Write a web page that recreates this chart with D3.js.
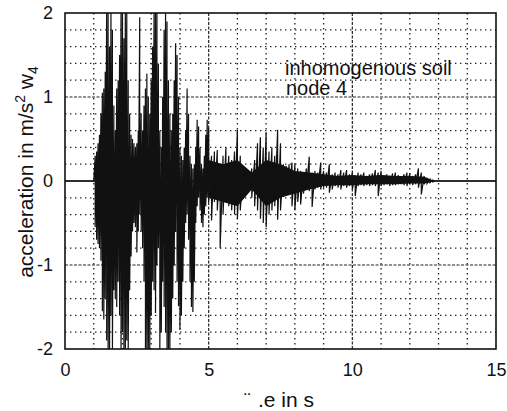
<!DOCTYPE html>
<html>
<head>
<meta charset="utf-8">
<script src="https://cdn.jsdelivr.net/npm/d3@7"></script>
<style>
    body { margin: 0; background: #fff; }
    svg { display: block; font-family: "Liberation Sans", Arial, sans-serif; }
    .minor { stroke: #222; stroke-width: 1.3; stroke-dasharray: 1.4 3.6; }
    .major { stroke: #222; stroke-width: 1.2; stroke-dasharray: 3 1.5; }
    .zero { stroke: #111; stroke-width: 1.4; }
    .axis text { font-size: 18px; fill: #111; }
    .label { font-size: 20px; fill: #111; }
</style>
</head>
<body>
<svg id="chart" width="507" height="411"></svg>
<script>
// tick labels
const xTicks = [0, 5, 10, 15];
const yTicks = [-2, -1, 0, 1, 2];

// strong part of the record (0.05 s read-off), times in s
const timesA = [0, 1.00,
    1.05, 1.10, 1.15, 1.20, 1.25, 1.30, 1.35, 1.40, 1.45, 1.50, 1.55, 1.60, 1.65, 1.70, 1.75, 1.80, 1.85, 1.90, 1.95, 2.00,
    2.05, 2.10, 2.15, 2.20, 2.25, 2.30, 2.35, 2.40, 2.45, 2.50, 2.55, 2.60, 2.65, 2.70, 2.75, 2.80, 2.85, 2.90, 2.95, 3.00,
    3.05, 3.10, 3.15, 3.20, 3.25, 3.30, 3.35, 3.40, 3.45, 3.50, 3.55, 3.60, 3.65, 3.70, 3.75, 3.80, 3.85, 3.90, 3.95, 4.00,
    4.05, 4.10, 4.15, 4.20, 4.25, 4.30, 4.35, 4.40, 4.45, 4.50, 4.55, 4.60, 4.65, 4.70, 4.75, 4.80, 4.85, 4.90, 4.95];
// upper peaks in m/s^2
const highA = [0, 0,
    0.30, 0.35, 0.45, 0.55, 0.80, 1.05, 1.10, 1.30, 2.00, 2.00, 1.60, 2.00, 1.80, 0.90, 0.60, 1.10, 1.20, 1.50, 2.00, 2.00,
    1.70, 2.00, 2.00, 1.20, 0.80, 0.55, 0.50, 0.45, 0.40, 0.45, 0.60, 1.95, 0.80, 0.60, 0.90, 1.10, 1.28, 1.00, 0.80, 1.20,
    1.60, 2.00, 2.00, 2.00, 1.40, 0.60, 0.40, 1.00, 1.80, 2.00, 1.90, 1.20, 0.80, 0.60, 0.80, 1.20, 1.64, 1.50, 1.00, 0.40,
    0.30, 0.25, 0.40, 0.60, 1.10, 0.80, 0.30, 0.20, 0.15, 0.20, 0.40, 0.73, 0.65, 0.40, 0.20, 0.15, 0.30, 0.55, 0.73];
// lower peaks in m/s^2
const lowA = [0, 0,
    -0.55, -0.70, -0.75, -0.80, -0.95, -1.55, -1.65, -1.40, -1.90, -2.00, -2.00, -1.60, -2.00, -1.30, -1.40, -1.50, -1.20, -1.60, -2.00, -1.80,
    -2.00, -2.00, -1.90, -2.00, -1.30, -0.90, -0.60, -0.50, -0.55, -0.85, -0.60, -0.40, -0.60, -0.80, -1.20, -2.00, -2.00, -2.00, -2.00, -1.60,
    -1.20, -1.30, -1.57, -1.00, -0.80, -2.00, -1.80, -1.20, -1.50, -1.80, -2.00, -2.00, -2.00, -1.80, -1.40, -1.00, -0.60, -1.20, -1.49, -1.77,
    -1.60, -1.20, -0.80, -0.50, -0.40, -0.70, -1.20, -1.50, -1.56, -1.20, -0.50, -0.30, -0.20, -0.35, -0.50, -0.55, -0.40, -0.30, -0.20];

// decaying tail (0.1 s read-off)
const timesB = [5.0, 5.1, 5.2, 5.3, 5.4, 5.5, 5.6, 5.7, 5.8, 5.9,
    6.0, 6.1, 6.2, 6.3, 6.4, 6.5, 6.6, 6.7, 6.8, 6.9,
    7.0, 7.1, 7.2, 7.3, 7.4, 7.5, 7.6, 7.7, 7.8, 7.9,
    8.0, 8.1, 8.2, 8.3, 8.4, 8.5, 8.6, 8.7, 8.8, 8.9,
    9.0, 9.1, 9.2, 9.3, 9.4, 9.5, 9.6, 9.7, 9.8, 9.9,
    10.0, 10.1, 10.2, 10.3, 10.4, 10.5, 10.6, 10.7, 10.8, 10.9,
    11.0, 11.1, 11.2, 11.3, 11.4, 11.5, 11.6, 11.7, 11.8, 11.9,
    12.0, 12.1, 12.2, 12.3, 12.4, 12.5, 12.6, 12.7, 12.8, 12.9, 15.0];
const highB = [0.63, 0.30, 0.35, 0.37, 0.20, 0.30, 0.40, 0.30, 0.25, 0.35,
    0.61, 0.30, 0.12, 0.10, 0.12, 0.15, 0.25, 0.45, 0.52, 0.40,
    0.58, 0.35, 0.40, 0.30, 0.61, 0.45, 0.20, 0.18, 0.20, 0.22,
    0.20, 0.15, 0.12, 0.10, 0.15, 0.29, 0.10, 0.12, 0.10, 0.22,
    0.12, 0.10, 0.20, 0.08, 0.10, 0.08, 0.13, 0.10, 0.13, 0.08,
    0.10, 0.06, 0.10, 0.08, 0.10, 0.06, 0.08, 0.09, 0.13, 0.10,
    0.12, 0.07, 0.08, 0.06, 0.09, 0.10, 0.07, 0.05, 0.08, 0.10,
    0.09, 0.06, 0.08, 0.15, 0.10, 0.06, 0.04, 0.02, 0.01, 0, 0];
const lowB = [-0.25, -0.47, -0.25, -0.35, -0.80, -0.40, -0.25, -0.30, -0.35, -0.40,
    -0.45, -0.35, -0.15, -0.10, -0.12, -0.20, -0.30, -0.35, -0.45, -0.50,
    -0.55, -0.40, -0.35, -0.30, -0.46, -0.35, -0.19, -0.15, -0.12, -0.30,
    -0.35, -0.25, -0.28, -0.15, -0.10, -0.12, -0.31, -0.10, -0.08, -0.10,
    -0.08, -0.08, -0.14, -0.10, -0.06, -0.08, -0.10, -0.06, -0.08, -0.06,
    -0.10, -0.18, -0.06, -0.05, -0.06, -0.05, -0.06, -0.05, -0.06, -0.18,
    -0.06, -0.05, -0.04, -0.06, -0.05, -0.05, -0.04, -0.04, -0.05, -0.06,
    -0.04, -0.05, -0.04, -0.08, -0.16, -0.04, -0.03, -0.02, -0.01, 0, 0];

// solid band of the tail, where the oscillation blurs into black
const coreTimes = [5.0, 5.5, 6.0, 6.5, 7.0, 7.5, 8.0, 8.5, 9.0, 9.5, 10.0, 10.5, 11.0, 11.5, 12.0, 12.5, 12.8, 12.9];
const coreHigh = [0.25, 0.20, 0.25, 0.10, 0.25, 0.20, 0.12, 0.10, 0.08, 0.06, 0.07, 0.06, 0.07, 0.06, 0.06, 0.05, 0.01, 0];
const coreLow = [-0.20, -0.25, -0.30, -0.10, -0.30, -0.20, -0.15, -0.10, -0.06, -0.05, -0.05, -0.04, -0.04, -0.04, -0.03, -0.03, -0.01, 0];

/** Class drawing the acceleration record. */
class AccelChart {
    constructor(svg) {
        this.svg = svg;
        this.x = d3.scaleLinear().domain([0, 15]).range([65, 496]);
        this.y = d3.scaleLinear().domain([-2, 2]).range([349, 13]);
    }

    drawGrid() {
        let x = this.x, y = this.y;
        let g = this.svg.append("g");

        // dotted grid every 1 s and 0.2 m/s^2, heavier at 5 s and whole units
        g.selectAll(".vx")
            .data(d3.range(1, 15))
            .enter().append("line")
            .attr("class", d => d % 5 == 0 ? "major" : "minor")
            .attr("x1", d => x(d)).attr("x2", d => x(d))
            .attr("y1", y(2)).attr("y2", y(-2));

        g.selectAll(".hy")
            .data(d3.range(-9, 10).map(d => d / 5))
            .enter().append("line")
            .attr("class", d => Math.abs(d) < 1e-9 ? "zero" : (Math.abs(Math.abs(d) - 1) < 1e-9 ? "major" : "minor"))
            .attr("x1", x(0)).attr("x2", x(15))
            .attr("y1", d => y(d)).attr("y2", d => y(d));
    }

    drawTrace() {
        let x = this.x, y = this.y;

        // black band of the tail
        let band = coreTimes.map((t, i) => ({t: t, hi: coreHigh[i], lo: coreLow[i]}));
        let area = d3.area()
            .x(d => x(d.t))
            .y0(d => y(d.lo))
            .y1(d => y(d.hi));
        this.svg.append("path")
            .datum(band)
            .attr("d", area)
            .attr("fill", "#111");

        // peaks as a zigzag
        let pts = [];
        timesA.forEach((t, i) => { pts.push([t, highA[i]]); pts.push([t, lowA[i]]); });
        timesB.forEach((t, i) => { pts.push([t, highB[i]]); pts.push([t, lowB[i]]); });
        let line = d3.line()
            .x(d => x(d[0]))
            .y(d => y(d[1]));

        this.svg.append("path")
            .datum(pts)
            .attr("d", line)
            .attr("fill", "none")
            .attr("stroke", "#111")
            .attr("stroke-width", 1.2);
    }

    drawAxes() {
        let x = this.x, y = this.y;

        this.svg.append("rect")
            .attr("x", x(0)).attr("y", y(2))
            .attr("width", x(15) - x(0)).attr("height", y(-2) - y(2))
            .attr("fill", "none").attr("stroke", "#111").attr("stroke-width", 1.6);

        let fmt = d => String(d);
        let ax = this.svg.append("g").attr("class", "axis")
            .attr("transform", "translate(0," + y(-2) + ")")
            .call(d3.axisBottom(x).tickValues(xTicks).tickFormat(fmt).tickSize(0).tickPadding(14));
        let ay = this.svg.append("g").attr("class", "axis")
            .attr("transform", "translate(" + x(0) + ",0)")
            .call(d3.axisLeft(y).tickValues(yTicks).tickFormat(fmt).tickSize(0).tickPadding(12));
        ax.select(".domain").remove();
        ay.select(".domain").remove();

        // y label with superscript and subscript
        let yl = this.svg.append("text")
            .attr("class", "label")
            .style("font-size", "21px")
            .attr("transform", "translate(33,172) rotate(-90)")
            .attr("text-anchor", "middle");
        yl.append("tspan").text("acceleration in m/s");
        yl.append("tspan").attr("dy", -8).style("font-size", "14px").text("2");
        yl.append("tspan").attr("dy", 8).text(" w");
        yl.append("tspan").attr("dy", 5).style("font-size", "14px").text("4");

        // x label as it survives in the scan
        this.svg.append("text").attr("class", "label")
            .attr("x", 244).attr("y", 407).text("\u00a8");
        this.svg.append("text").attr("class", "label")
            .style("font-size", "21px")
            .attr("x", 258).attr("y", 407).text(".e in s");

        // annotation
        this.svg.append("text").attr("class", "label")
            .attr("x", 285).attr("y", 75).text("inhomogenous soil");
        this.svg.append("text").attr("class", "label")
            .attr("x", 286).attr("y", 95).text("node 4");
    }
}

let chart = new AccelChart(d3.select("#chart"));
chart.drawGrid();
chart.drawTrace();
chart.drawAxes();
</script>
</body>
</html>
